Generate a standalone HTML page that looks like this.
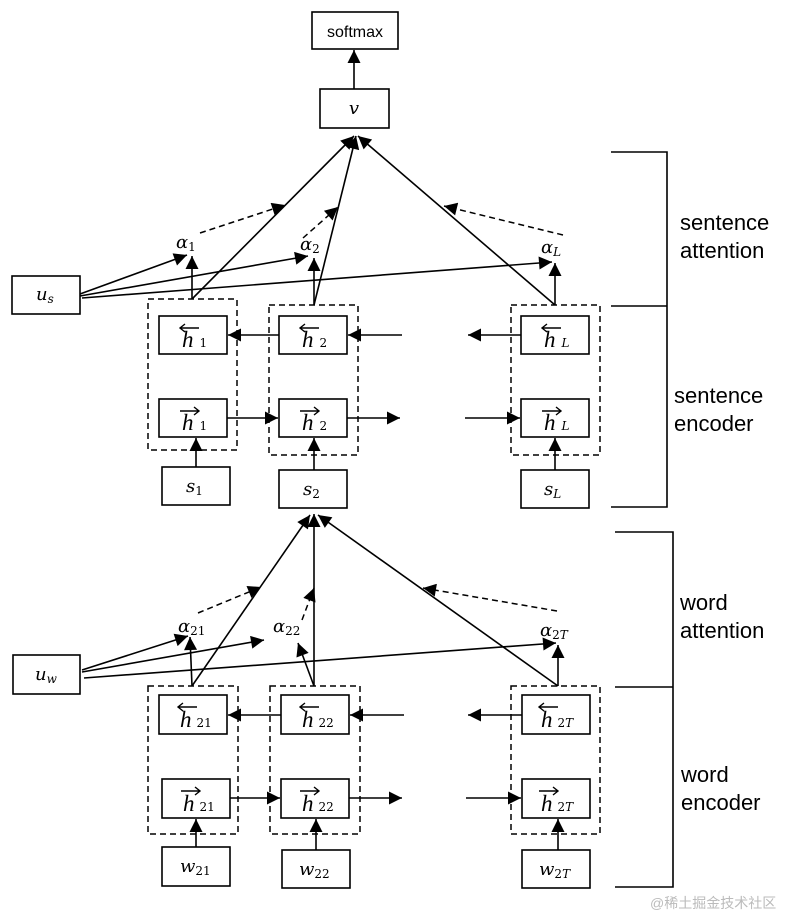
<!DOCTYPE html>
<html><head><meta charset="utf-8"><style>
html,body{margin:0;padding:0;background:#fff;}
svg{display:block}
.b{fill:#fff;stroke:#000;stroke-width:1.6}
.d{fill:none;stroke:#000;stroke-width:1.5;stroke-dasharray:6,4}
.l{stroke:#000;stroke-width:1.6;fill:none}
.m{font-family:"DejaVu Serif","Liberation Serif",serif;font-style:italic;font-size:18px}
.s{font-family:"DejaVu Serif","Liberation Serif",serif;font-style:normal;font-size:12px}
.si{font-family:"DejaVu Serif","Liberation Serif",serif;font-style:italic;font-size:12px}
.h{font-family:"Liberation Serif",serif;font-style:italic;font-size:23px}
.t{font-family:"Liberation Sans",sans-serif;font-size:22px}
.ar{stroke:#000;stroke-width:1.4;fill:none}
</style></head><body>
<svg width="806" height="916" viewBox="0 0 806 916" xmlns="http://www.w3.org/2000/svg">
<defs>
<marker id="A" viewBox="0 0 10 10" refX="10" refY="5" markerWidth="15" markerHeight="13" markerUnits="userSpaceOnUse" orient="auto"><path d="M0,0 L10,5 L0,10 z"/></marker>
<g id="la"><path class="ar" d="M0,0 H19 M5,-4 L0,0 L5,4"/></g>
<g id="ra"><path class="ar" d="M0,0 H19 M14,-4 L19,0 L14,4"/></g>
</defs>

<!-- top -->
<rect class="b" x="312" y="12" width="86" height="37"/>
<text x="355" y="37" text-anchor="middle" font-family="Liberation Sans,sans-serif" font-size="16">softmax</text>
<rect class="b" x="320" y="89" width="69" height="39"/>
<text class="m" x="354" y="114" text-anchor="middle">v</text>
<line class="l" x1="354" y1="89" x2="354" y2="50" marker-end="url(#A)"/>

<!-- sentence level -->
<rect class="b" x="12" y="276" width="68" height="38"/>
<text class="m" x="36" y="300">u<tspan class="si" dy="3">s</tspan></text>

<rect class="d" x="148" y="299" width="89" height="151"/>
<rect class="d" x="269" y="305" width="89" height="150"/>
<rect class="d" x="511" y="305" width="89" height="150"/>

<rect class="b" x="159" y="316" width="68" height="38"/><text class="h" x="182" y="347">h<tspan class="s" dx="6" font-size="13">1</tspan></text><use href="#la" x="180" y="328"/>
<rect class="b" x="159" y="399" width="68" height="38"/><text class="h" x="182" y="430">h<tspan class="s" dx="6" font-size="13">1</tspan></text><use href="#ra" x="180" y="411"/>
<rect class="b" x="279" y="316" width="68" height="38"/><text class="h" x="302" y="347">h<tspan class="s" dx="6" font-size="13">2</tspan></text><use href="#la" x="300" y="328"/>
<rect class="b" x="279" y="399" width="68" height="38"/><text class="h" x="302" y="430">h<tspan class="s" dx="6" font-size="13">2</tspan></text><use href="#ra" x="300" y="411"/>
<rect class="b" x="521" y="316" width="68" height="38"/><text class="h" x="544" y="347">h<tspan class="si" dx="6" font-size="13">L</tspan></text><use href="#la" x="542" y="328"/>
<rect class="b" x="521" y="399" width="68" height="38"/><text class="h" x="544" y="430">h<tspan class="si" dx="6" font-size="13">L</tspan></text><use href="#ra" x="542" y="411"/>
<rect class="b" x="162" y="467" width="68" height="38"/><text class="m" x="186" y="492">s<tspan class="s" dy="3">1</tspan></text>
<rect class="b" x="279" y="470" width="68" height="38"/><text class="m" x="303" y="495">s<tspan class="s" dy="3">2</tspan></text>
<rect class="b" x="521" y="470" width="68" height="38"/><text class="m" x="544" y="495">s<tspan class="si" dy="3">L</tspan></text>

<line class="l" x1="279" y1="335" x2="228" y2="335" marker-end="url(#A)"/>
<line class="l" x1="402" y1="335" x2="348" y2="335" marker-end="url(#A)"/>
<line class="l" x1="521" y1="335" x2="468" y2="335" marker-end="url(#A)"/>
<line class="l" x1="227" y1="418" x2="278" y2="418" marker-end="url(#A)"/>
<line class="l" x1="347" y1="418" x2="400" y2="418" marker-end="url(#A)"/>
<line class="l" x1="465" y1="418" x2="520" y2="418" marker-end="url(#A)"/>
<line class="l" x1="196" y1="467" x2="196" y2="438" marker-end="url(#A)"/>
<line class="l" x1="314" y1="470" x2="314" y2="438" marker-end="url(#A)"/>
<line class="l" x1="555" y1="470" x2="555" y2="438" marker-end="url(#A)"/>

<text class="m" x="176" y="248" font-size="20">α<tspan class="s" dy="3" font-size="13">1</tspan></text>
<text class="m" x="300" y="250" font-size="20">α<tspan class="s" dy="3" font-size="13">2</tspan></text>
<text class="m" x="541" y="253" font-size="20">α<tspan class="si" dy="3" font-size="13">L</tspan></text>

<line class="l" x1="192" y1="299" x2="192" y2="256" marker-end="url(#A)"/>
<line class="l" x1="192" y1="299" x2="354" y2="136" marker-end="url(#A)"/>
<line class="l" x1="314" y1="305" x2="314" y2="258" marker-end="url(#A)"/>
<line class="l" x1="314" y1="305" x2="356" y2="136" marker-end="url(#A)"/>
<line class="l" x1="555" y1="305" x2="555" y2="263" marker-end="url(#A)"/>
<line class="l" x1="555" y1="305" x2="358" y2="136" marker-end="url(#A)"/>
<line class="l" x1="80" y1="294" x2="187" y2="255" marker-end="url(#A)"/>
<line class="l" x1="80" y1="296" x2="308" y2="256" marker-end="url(#A)"/>
<line class="l" x1="82" y1="298" x2="552" y2="262" marker-end="url(#A)"/>
<line class="d" x1="200" y1="233" x2="285" y2="205" marker-end="url(#A)"/>
<line class="d" x1="303" y1="238" x2="338" y2="207" marker-end="url(#A)"/>
<line class="d" x1="563" y1="235" x2="444" y2="206" marker-end="url(#A)"/>

<!-- word level -->
<rect class="b" x="13" y="655" width="67" height="39"/>
<text class="m" x="35" y="680">u<tspan class="si" dy="3">w</tspan></text>

<rect class="d" x="148" y="686" width="90" height="148"/>
<rect class="d" x="270" y="686" width="90" height="148"/>
<rect class="d" x="511" y="686" width="89" height="148"/>

<rect class="b" x="159" y="695" width="68" height="39"/><text class="h" x="180" y="727">h<tspan class="s" dx="5" font-size="13">21</tspan></text><use href="#la" x="178" y="707"/>
<rect class="b" x="162" y="779" width="68" height="39"/><text class="h" x="183" y="811">h<tspan class="s" dx="5" font-size="13">21</tspan></text><use href="#ra" x="181" y="791"/>
<rect class="b" x="281" y="695" width="68" height="39"/><text class="h" x="302" y="727">h<tspan class="s" dx="5" font-size="13">22</tspan></text><use href="#la" x="300" y="707"/>
<rect class="b" x="281" y="779" width="68" height="39"/><text class="h" x="302" y="811">h<tspan class="s" dx="5" font-size="13">22</tspan></text><use href="#ra" x="300" y="791"/>
<rect class="b" x="522" y="695" width="68" height="39"/><text class="h" x="541" y="727">h<tspan class="s" dx="5" font-size="13">2<tspan font-style="italic">T</tspan></tspan></text><use href="#la" x="539" y="707"/>
<rect class="b" x="522" y="779" width="68" height="39"/><text class="h" x="541" y="811">h<tspan class="s" dx="5" font-size="13">2<tspan font-style="italic">T</tspan></tspan></text><use href="#ra" x="539" y="791"/>
<rect class="b" x="162" y="847" width="68" height="39"/><text class="m" x="180" y="872">w<tspan class="s" dy="3">21</tspan></text>
<rect class="b" x="282" y="850" width="68" height="38"/><text class="m" x="299" y="875">w<tspan class="s" dy="3">22</tspan></text>
<rect class="b" x="522" y="850" width="68" height="38"/><text class="m" x="539" y="875">w<tspan class="s" dy="3">2<tspan font-style="italic">T</tspan></tspan></text>

<line class="l" x1="281" y1="715" x2="228" y2="715" marker-end="url(#A)"/>
<line class="l" x1="404" y1="715" x2="350" y2="715" marker-end="url(#A)"/>
<line class="l" x1="522" y1="715" x2="468" y2="715" marker-end="url(#A)"/>
<line class="l" x1="230" y1="798" x2="280" y2="798" marker-end="url(#A)"/>
<line class="l" x1="349" y1="798" x2="402" y2="798" marker-end="url(#A)"/>
<line class="l" x1="466" y1="798" x2="521" y2="798" marker-end="url(#A)"/>
<line class="l" x1="196" y1="847" x2="196" y2="819" marker-end="url(#A)"/>
<line class="l" x1="316" y1="850" x2="316" y2="819" marker-end="url(#A)"/>
<line class="l" x1="558" y1="850" x2="558" y2="819" marker-end="url(#A)"/>

<text class="m" x="178" y="632" font-size="20">α<tspan class="s" dy="3" font-size="13">21</tspan></text>
<text class="m" x="273" y="632" font-size="20">α<tspan class="s" dy="3" font-size="13">22</tspan></text>
<text class="m" x="540" y="636" font-size="20">α<tspan class="s" dy="3" font-size="13">2<tspan font-style="italic">T</tspan></tspan></text>

<line class="l" x1="192" y1="686" x2="190" y2="637" marker-end="url(#A)"/>
<line class="l" x1="192" y1="686" x2="310" y2="515" marker-end="url(#A)"/>
<line class="l" x1="314" y1="686" x2="298" y2="643" marker-end="url(#A)"/>
<line class="l" x1="314" y1="686" x2="314" y2="514" marker-end="url(#A)"/>
<line class="l" x1="558" y1="686" x2="318" y2="515" marker-end="url(#A)"/>
<line class="l" x1="558" y1="686" x2="558" y2="645" marker-end="url(#A)"/>
<line class="l" x1="82" y1="670" x2="188" y2="636" marker-end="url(#A)"/>
<line class="l" x1="82" y1="672" x2="264" y2="640" marker-end="url(#A)"/>
<line class="l" x1="84" y1="678" x2="556" y2="643" marker-end="url(#A)"/>
<line class="d" x1="198" y1="613" x2="261" y2="587" marker-end="url(#A)"/>
<line class="d" x1="302" y1="620" x2="314" y2="588" marker-end="url(#A)"/>
<line class="d" x1="557" y1="611" x2="423" y2="588" marker-end="url(#A)"/>

<!-- brackets -->
<path class="l" d="M611,152 H667 V507 H611 M611,306 H667"/>
<path class="l" d="M615,532 H673 V887 H615 M615,687 H673"/>
<text class="t" x="680" y="230">sentence</text>
<text class="t" x="680" y="258">attention</text>
<text class="t" x="674" y="403">sentence</text>
<text class="t" x="674" y="431">encoder</text>
<text class="t" x="680" y="610">word</text>
<text class="t" x="680" y="638">attention</text>
<text class="t" x="681" y="782">word</text>
<text class="t" x="681" y="810">encoder</text>
<text x="650" y="908" font-family="Liberation Sans,'Noto Sans CJK SC',sans-serif" font-size="14" fill="#bbb">@稀土掘金技术社区</text>
</svg>
</body></html>
